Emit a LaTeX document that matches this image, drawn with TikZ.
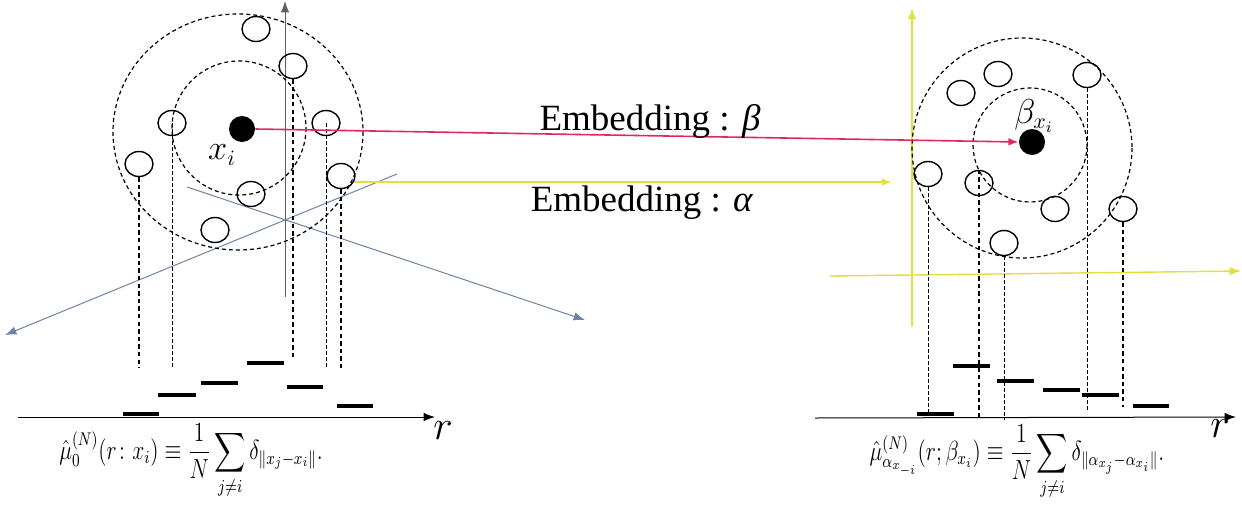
\documentclass[tikz,border=0pt]{standalone}
\usepackage{amsmath}
\usepackage{fontspec}
\newfontfamily\timesfont{Liberation Serif}
\usetikzlibrary{arrows.meta,positioning,shapes.geometric}
\definecolor{vermelho}{RGB}{222,40,95}
\definecolor{amarelo}{RGB}{225,225,55}
\definecolor{azulcinza}{RGB}{110,130,170}
\definecolor{cinza}{RGB}{95,95,95}

\begin{document}
\begin{tikzpicture}[x=0.5pt,y=-0.5pt,
ponto/.style={draw, ellipse, line width=0.7pt, minimum width=14pt, minimum height=12.5pt, inner sep=0pt},
centro/.style={circle, fill=black, minimum size=13pt, inner sep=0pt},
anel/.style={line width=0.6pt, dash pattern=on 2pt off 1.5pt},
projecao/.style={line width=0.65pt, dash pattern=on 2.2pt off 1.6pt},
projecaofina/.style={line width=0.4pt, dash pattern=on 1.8pt off 1.2pt},
barra/.style={line width=2.1pt},
eixo/.style={-{Latex[length=2mm]}, line width=0.5pt},
seta/.style={-{Latex[length=1.8mm]}, line width=0.8pt},
rotulo/.style={font=\fontsize{18.5}{20}\selectfont\timesfont},
formula/.style={font=\fontsize{12}{14}\selectfont},
variavel/.style={font=\fontsize{20}{22}\selectfont}
]
\useasboundingbox (0,0) rectangle (1242,504);

\coordinate (eyL0) at (285,297);
\coordinate (eyL1) at (285,1);
\coordinate (diagA0) at (187,187);
\coordinate (diagA1) at (585,320);
\coordinate (diagB0) at (397,174);
\coordinate (diagB1) at (5,335);
\draw[eixo, cinza] (eyL0) -- (eyL1);
\draw[eixo, azulcinza] (diagA0) -- (diagA1);
\draw[eixo, azulcinza] (diagB0) -- (diagB1);

\draw[anel] (238,132) ellipse[x radius=125, y radius=118];
\draw[anel] (239,128) circle[radius=67];
\node[centro] (xi) at (242,129) {};
\node[font=\fontsize{16}{18}\selectfont] (lxi) at (222,155) {$x_i$};
\node[ponto] (pL1) at (256,29) {};
\node[ponto] (pL2) at (293,66) {};
\node[ponto] (pL3) at (172,123) {};
\node[ponto] (pL4) at (326,123) {};
\node[ponto] (pL5) at (139,164) {};
\node[ponto] (pL6) at (341,176) {};
\node[ponto] (pL7) at (251,194) {};
\node[ponto] (pL8) at (215,230) {};

\coordinate (qL5) at (139,368);
\coordinate (qL3) at (172,368);
\coordinate (qL2) at (293,357);
\coordinate (qL4) at (326,368);
\coordinate (qL6) at (341,368);
\draw[projecao] (pL5.south) -- (qL5);
\draw[projecaofina] (pL3.center) -- (qL3);
\draw[projecao] (pL2.south) -- (qL2);
\draw[projecaofina] (pL4.center) -- (qL4);
\draw[projecao] (pL6.south) -- (qL6);

\draw[barra] (123,414) -- (159,414);
\draw[barra] (158,395) -- (196,395);
\draw[barra] (201,383) -- (238,383);
\draw[barra] (247,363) -- (284,363);
\draw[barra] (287,387) -- (323,387);
\draw[barra] (337,406) -- (373,406);

\coordinate (rL0) at (18,417);
\coordinate (rL1) at (435,417);
\draw[eixo] (rL0) -- (rL1);
\node[variavel] (vrL) at (443,431) {$r$};
\node[formula] (muL) at (191,461) {\scalebox{0.9}[1.15]{$\displaystyle \hat{\mu}_0^{(N)}(r\colon x_i) \equiv \frac{1}{N}\sum_{j\neq i}\delta_{\|x_j-x_i\|}.$}};

\coordinate (eyR0) at (912,326);
\coordinate (eyR1) at (912,8);
\coordinate (exR0) at (830,276);
\coordinate (exR1) at (1241,271);
\draw[eixo, amarelo, line width=0.7pt] (eyR0) -- (eyR1);
\draw[eixo, amarelo, line width=0.7pt] (exR0) -- (exR1);

\draw[anel] (1022,148) circle[radius=110];
\draw[anel] (1030,145) circle[radius=57];
\node[centro] (bxi) at (1032,142) {};
\node[font=\fontsize{16}{18}\selectfont] (lbxi) at (1034,116) {$\beta_{x_i}$};
\node[ponto] (pR1) at (998,74) {};
\node[ponto] (pR2) at (961,93) {};
\node[ponto] (pR3) at (1087,75) {};
\node[ponto] (pR4) at (928,174) {};
\node[ponto] (pR5) at (979,183) {};
\node[ponto] (pR6) at (1055,209) {};
\node[ponto] (pR7) at (1123,209) {};
\node[ponto] (pR8) at (1004,243) {};

\coordinate (qR4) at (928,413);
\coordinate (qR5) at (979,420);
\coordinate (qR8) at (1004,420);
\coordinate (qR3) at (1087,410);
\coordinate (qR7) at (1123,407);
\draw[projecaofina] (pR4.south) -- (qR4);
\draw[projecao] (pR5.north) -- (qR5);
\draw[projecaofina] (pR8.south) -- (qR8);
\draw[projecaofina] (pR3.south) -- (qR3);
\draw[projecao] (pR7.south) -- (qR7);

\draw[barra] (917,414) -- (954,414);
\draw[barra] (953,366) -- (990,366);
\draw[barra] (997,381) -- (1034,381);
\draw[barra] (1043,390) -- (1080,390);
\draw[barra] (1082,395) -- (1119,395);
\draw[barra] (1133,406) -- (1169,406);

\coordinate (rR0) at (815,418);
\coordinate (rR1) at (1236,417);
\draw[eixo] (rR0) -- (rR1);
\node[variavel] (vrR) at (1220,429) {$r$};
\node[formula] (muR) at (1017,462) {\scalebox{0.9}[1.15]{$\displaystyle \hat{\mu}^{(N)}_{\alpha_{x_{-i}}}(r;\beta_{x_i}) \equiv \frac{1}{N}\sum_{j\neq i}\delta_{\|\alpha_{x_j}-\alpha_{x_i}\|}.$}};

\coordinate (alfaIni) at (355,182);
\coordinate (alfaFim) at (892,182);
\draw[seta, vermelho] (xi.east) -- (bxi.west);
\draw[seta, amarelo] (alfaIni) -- (alfaFim);
\node[rotulo] (embB) at (650,121) {Embedding : \textit{β}};
\node[rotulo] (embA) at (642,203) {Embedding : \textit{α}};
\end{tikzpicture}
\end{document}
